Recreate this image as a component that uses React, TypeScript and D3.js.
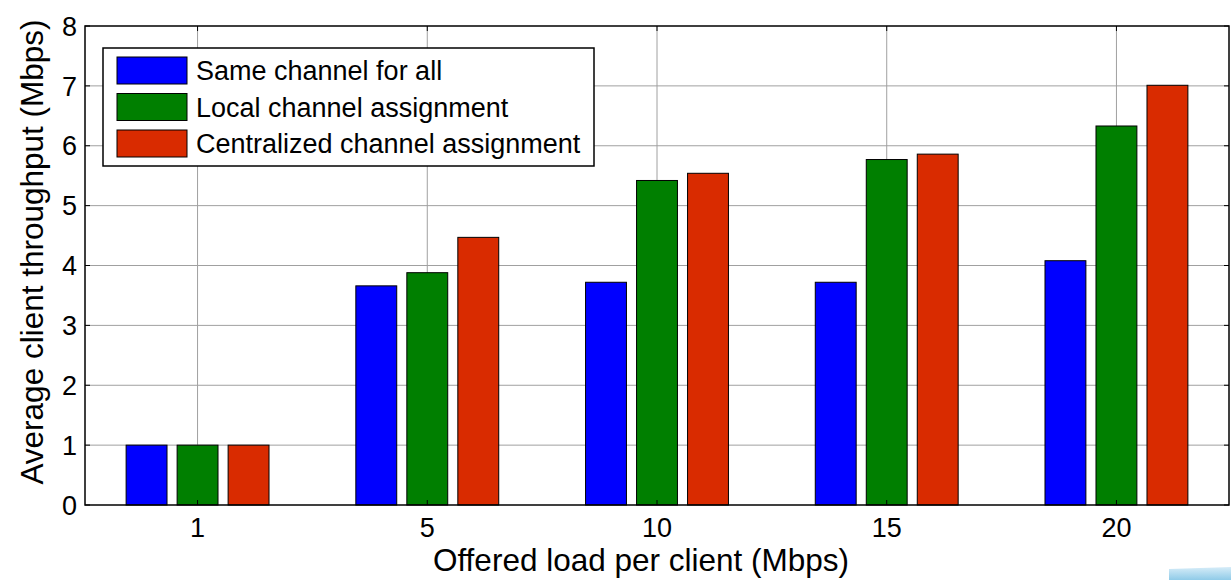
import React from "react";
import * as d3 from "d3";

// Offered load per client (Mbps) on the x axis
const loads = ["1", "5", "10", "15", "20"];
const seriesNames = [
  "Same channel for all",
  "Local channel assignment",
  "Centralized channel assignment",
];
const sameChannel = [1.0, 3.66, 3.72, 3.72, 4.08];
const localAssign = [1.0, 3.88, 5.42, 5.77, 6.33];
const centralAssign = [1.0, 4.47, 5.54, 5.86, 7.01];
const yTicks = [0, 1, 2, 3, 4, 5, 6, 7, 8];
const colors = ["#0000ff", "#007f00", "#d92b00"];

const W = 1231;
const H = 580;
const plot = { left: 85, top: 26, right: 1229, bottom: 505 };

export default function App() {
  const series = [sameChannel, localAssign, centralAssign];
  const x = d3.scaleLinear().domain([0.51, 5.49]).range([plot.left, plot.right]);
  const y = d3.scaleLinear().domain([0, 8]).range([plot.bottom, plot.top]);
  const groupOffsets = [-0.222, 0, 0.222];
  const barW = 0.178;
  const font = "Arial, 'Liberation Sans', sans-serif";
  const tickLen = 5;

  return (
    <svg
      width={W}
      height={H}
      style={{ position: "absolute", left: 0, top: 0, background: "#fff" }}
      fontFamily={font}
    >
      <defs>
        <linearGradient id="corner" x1="0" y1="0" x2="0" y2="1">
          <stop offset="0" stopColor="#d6ecf8" />
          <stop offset="1" stopColor="#8fcbe8" />
        </linearGradient>
      </defs>
      <rect x={0} y={0} width={W} height={H} fill="#fff" />

      {/* grid */}
      {yTicks.slice(1, -1).map((t) => (
        <line
          key={"gy" + t}
          x1={plot.left}
          x2={plot.right}
          y1={y(t)}
          y2={y(t)}
          stroke="#a0a0a0"
          strokeWidth={1}
        />
      ))}
      {loads.map((_, i) => (
        <line
          key={"gx" + i}
          x1={x(i + 1)}
          x2={x(i + 1)}
          y1={plot.top}
          y2={plot.bottom}
          stroke="#a0a0a0"
          strokeWidth={1}
        />
      ))}

      {/* bars */}
      {series.map((vals, s) =>
        vals.map((v, i) => {
          const x0 = x(i + 1 + groupOffsets[s] - barW / 2);
          const x1 = x(i + 1 + groupOffsets[s] + barW / 2);
          return (
            <rect
              key={`b${s}-${i}`}
              x={x0}
              y={y(v)}
              width={x1 - x0}
              height={y(0) - y(v)}
              fill={colors[s]}
              stroke="#000"
              strokeWidth={1}
            />
          );
        })
      )}

      {/* axes frame */}
      <rect
        x={plot.left}
        y={plot.top}
        width={plot.right - plot.left}
        height={plot.bottom - plot.top}
        fill="none"
        stroke="#000"
        strokeWidth={1.5}
      />

      {/* y ticks and labels */}
      {yTicks.map((t) => (
        <g key={"yt" + t}>
          <line x1={plot.left} x2={plot.left + tickLen} y1={y(t)} y2={y(t)} stroke="#000" />
          <line x1={plot.right} x2={plot.right - tickLen} y1={y(t)} y2={y(t)} stroke="#000" />
          <text
            x={plot.left - 8}
            y={y(t)}
            dy="0.36em"
            textAnchor="end"
            fontSize={27}
            fill="#000"
          >
            {t}
          </text>
        </g>
      ))}

      {/* x ticks and labels */}
      {loads.map((l, i) => (
        <g key={"xt" + i}>
          <line x1={x(i + 1)} x2={x(i + 1)} y1={plot.bottom} y2={plot.bottom - tickLen} stroke="#000" />
          <line x1={x(i + 1)} x2={x(i + 1)} y1={plot.top} y2={plot.top + tickLen} stroke="#000" />
          <text x={x(i + 1)} y={537} textAnchor="middle" fontSize={27} fill="#000">
            {l}
          </text>
        </g>
      ))}

      {/* axis titles */}
      <text x={(plot.left + plot.right) / 2 - 16} y={571} textAnchor="middle" fontSize={31.5} fill="#000">
        Offered load per client (Mbps)
      </text>
      <text
        transform={`translate(43, 252) rotate(-90)`}
        textAnchor="middle"
        fontSize={31.5}
        fill="#000"
      >
        Average client throughput (Mbps)
      </text>

      {/* legend */}
      <g>
        <rect x={103} y={48} width={491} height={118} fill="#fff" stroke="#000" strokeWidth={1.5} />
        {seriesNames.map((name, s) => (
          <g key={"lg" + s}>
            <rect
              x={117}
              y={57 + s * 36.5}
              width={70}
              height={27}
              fill={colors[s]}
              stroke="#000"
              strokeWidth={1}
            />
            <text x={196} y={70.5 + s * 36.5} dy="0.36em" fontSize={27} fill="#000">
              {name}
            </text>
          </g>
        ))}
      </g>

      {/* corner ribbon */}
      <path d="M1169,569 L1231,567 L1231,580 L1169,580 Z" fill="url(#corner)" />
    </svg>
  );
}
